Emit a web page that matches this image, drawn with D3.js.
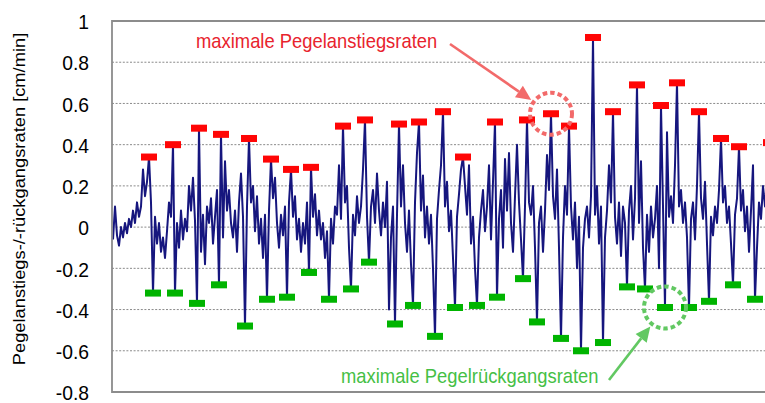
<!DOCTYPE html>
<html>
<head>
<meta charset="utf-8">
<script src="https://cdn.jsdelivr.net/npm/d3@7"></script>
<style>
  html, body { margin: 0; padding: 0; background: #fff; }
  svg { display: block; }
  text { font-family: "Liberation Sans", Arial, sans-serif; }
</style>
</head>
<body>
<svg id="chart" width="765" height="403"></svg>
<script>
// Water level rise/fall rates [cm/min], one value per time step
const rates = [
  -0.06, 0.10, -0.04, -0.09, 0.00, -0.05, 0.02, -0.03, 0.04, 0.00,
  0.08, 0.02, 0.12, 0.05, 0.10, 0.28, 0.15, 0.22, 0.34, 0.12,
  -0.32, 0.05, -0.08, 0.02, -0.12, -0.05, -0.15, -0.02, 0.12, 0.05,
  0.40, -0.32, 0.02, -0.10, 0.08, -0.06, 0.04, -0.02, 0.20, 0.08,
  0.24, 0.03, -0.37, 0.48, -0.12, 0.06, -0.18, 0.10, 0.02, 0.14,
  -0.08, 0.05, 0.18, -0.28, 0.45, -0.05, 0.32, 0.08, 0.18, 0.02,
  -0.05, 0.08, -0.12, 0.12, 0.26, 0.05, -0.48, 0.10, 0.43, 0.12,
  0.20, -0.02, 0.15, -0.08, 0.04, -0.15, 0.06, -0.35, 0.08, 0.33,
  0.14, 0.24, 0.02, -0.10, 0.06, -0.04, 0.10, -0.34, 0.12, 0.28,
  0.05, 0.15, -0.06, 0.04, -0.12, 0.02, -0.08, 0.12, -0.22, 0.29,
  0.05, 0.16, -0.04, 0.08, -0.06, 0.02, -0.15, -0.02, -0.35, 0.04,
  -0.08, 0.10, 0.06, 0.30, 0.04, 0.49, 0.12, 0.20, -0.10, -0.30,
  0.06, -0.04, 0.15, 0.02, 0.10, 0.28, 0.52, 0.05, -0.17, 0.10,
  0.18, 0.02, 0.26, 0.08, -0.04, 0.12, 0.00, 0.22, -0.40, -0.05,
  0.10, -0.47, 0.06, 0.50, 0.10, 0.30, 0.02, -0.12, 0.08, -0.18,
  -0.38, 0.12, 0.36, 0.51, 0.08, 0.25, -0.05, 0.10, -0.08, 0.06,
  -0.20, -0.53, 0.04, 0.18, 0.30, 0.56, 0.10, 0.22, -0.02, 0.08,
  -0.15, -0.39, 0.05, 0.16, 0.28, 0.34, 0.20, 0.06, 0.30, -0.08,
  0.05, -0.20, -0.38, -0.05, 0.08, 0.18, -0.02, 0.10, 0.30, -0.06,
  0.22, 0.51, -0.34, 0.04, 0.18, -0.10, 0.33, 0.08, 0.36, 0.02,
  -0.12, 0.15, 0.40, 0.12, -0.06, -0.25, 0.10, 0.52, 0.12, 0.06,
  0.20, -0.10, -0.46, 0.02, 0.10, -0.12, 0.08, 0.35, 0.18, 0.55,
  0.15, 0.04, 0.28, -0.10, -0.54, -0.05, 0.20, 0.06, 0.49, 0.10,
  -0.06, 0.12, -0.20, 0.05, -0.60, -0.10, 0.04, 0.10, -0.05, 0.15,
  0.92, 0.06, 0.20, -0.08, 0.10, -0.56, -0.05, 0.08, 0.30, 0.12,
  0.56, 0.05, -0.08, 0.12, -0.14, 0.10, 0.02, -0.29, 0.08, 0.20,
  -0.06, 0.14, 0.69, 0.02, 0.32, -0.10, -0.30, 0.06, -0.12, 0.10,
  -0.05, 0.04, 0.20, -0.20, 0.59, 0.10, -0.39, 0.46, 0.05, 0.15,
  0.02, 0.30, 0.70, 0.10, 0.18, 0.02, 0.12, -0.05, -0.39, 0.04,
  0.12, -0.06, 0.20, 0.56, 0.14, 0.04, 0.22, -0.08, -0.36, 0.05,
  -0.04, 0.10, 0.02, 0.18, 0.43, 0.12, 0.20, 0.02, 0.10, -0.08,
  -0.28, 0.06, 0.14, 0.39, 0.08, 0.18, -0.02, 0.10, -0.12, 0.08,
  0.30, -0.35, -0.10, 0.12, 0.04, 0.20, 0.10, 0.24, 0.30, 0.41,
  0.15, 0.05, 0.12
];

// Time steps holding the daily maximum rise rate and maximum fall rate
const riseMaxIdx = [18, 30, 43, 54, 68, 79, 89, 99, 115, 126, 143, 153, 165, 175,
  191, 207, 219, 228, 240, 250, 262, 274, 282, 293, 304, 313, 329];
const fallMaxIdx = [20, 31, 42, 53, 66, 77, 87, 98, 108, 119, 128, 141, 150, 161, 171,
  182, 192, 205, 212, 224, 234, 245, 257, 266, 276, 288, 298, 310, 321];

const yTicks = [1, 0.8, 0.6, 0.4, 0.2, 0, -0.2, -0.4, -0.6, -0.8];
const yTitle = "Pegelanstiegs-/-rückgangsraten [cm/min]";
const riseLabel = "maximale Pegelanstiegsraten";
const fallLabel = "maximale Pegelrückgangsraten";
// markers singled out by the callouts
const riseHighlight = 16;
const fallHighlight = 24;

const W = 765, H = 403;
const plot = { left: 112, top: 21, bottom: 392 };
const sx = 0.92; // horizontal text compression

const svg = d3.select("#chart");

const x = d3.scaleLinear().domain([0, rates.length - 1]).range([113, 113 + 2 * (rates.length - 1)]);
const y = d3.scaleLinear().domain([-0.8, 1]).range([plot.bottom, plot.top]);

// dotted gridlines
svg.append("g")
  .selectAll("line")
  .data(yTicks.filter(t => t !== 1 && t !== -0.8))
  .join("line")
  .attr("x1", plot.left).attr("x2", W)
  .attr("y1", d => y(d)).attr("y2", d => y(d))
  .attr("stroke", "#8a8a8a")
  .attr("stroke-width", 1)
  .attr("stroke-dasharray", "2,1.6");

// rate series
svg.append("path")
  .datum(rates)
  .attr("fill", "none")
  .attr("stroke", "#16167e")
  .attr("stroke-width", 2)
  .attr("stroke-linejoin", "round")
  .attr("d", d3.line().x((d, i) => x(i)).y(d => y(d)));

// markers for daily extremes
const mw = 16, mh = 7;
svg.append("g")
  .selectAll("rect")
  .data(riseMaxIdx)
  .join("rect")
  .attr("x", i => x(i) - mw / 2).attr("y", i => y(rates[i]) - mh / 2)
  .attr("width", mw).attr("height", mh)
  .attr("fill", "#ff0505");
svg.append("g")
  .selectAll("rect")
  .data(fallMaxIdx)
  .join("rect")
  .attr("x", i => x(i) - mw / 2).attr("y", i => y(rates[i]) - mh / 2)
  .attr("width", mw).attr("height", mh)
  .attr("fill", "#00b400");

// frame (left, top, bottom)
svg.append("path")
  .attr("d", `M${W},${plot.top}H${plot.left}V${plot.bottom}H${W}`)
  .attr("fill", "none")
  .attr("stroke", "#8c8c8c")
  .attr("stroke-width", 1.8);

// y axis labels
const axis = svg.append("g")
  .attr("transform", `translate(${plot.left},0)`)
  .call(d3.axisLeft(y).tickValues(yTicks).tickSize(0).tickFormat(d => String(d)));
axis.select(".domain").remove();
axis.selectAll("text")
  .attr("x", -23 / sx)
  .attr("dy", "0.37em")
  .attr("transform", `scale(${sx},1)`)
  .attr("fill", "#000")
  .style("font-family", "'Liberation Sans', Arial, sans-serif")
  .style("font-size", "21px");

// y axis title
svg.append("text")
  .attr("transform", `translate(25,${(32 + 366) / 2}) scale(${sx},1) rotate(-90)`)
  .attr("text-anchor", "middle")
  .style("font-size", "18.3px")
  .attr("fill", "#000")
  .text(yTitle);

// callouts
function callout(cx, cy, tail, color, textColor, label, textPos) {
  const r = 21;
  svg.append("circle")
    .attr("cx", cx).attr("cy", cy).attr("r", r)
    .attr("fill", "none")
    .attr("stroke", color)
    .attr("stroke-width", 4)
    .attr("stroke-dasharray", "4.5,3");
  const dx = tail[0] - cx, dy = tail[1] - cy;
  const len = Math.hypot(dx, dy);
  const ux = dx / len, uy = dy / len;
  const tip = [cx + ux * (r + 3), cy + uy * (r + 3)];
  const headLen = 15, headW = 7;
  const base = [tip[0] + ux * headLen, tip[1] + uy * headLen];
  svg.append("line")
    .attr("x1", tail[0]).attr("y1", tail[1])
    .attr("x2", base[0]).attr("y2", base[1])
    .attr("stroke", color).attr("stroke-width", 2.6);
  svg.append("polygon")
    .attr("points", [
      tip,
      [base[0] - uy * headW, base[1] + ux * headW],
      [base[0] + uy * headW, base[1] - ux * headW]
    ].map(p => p.join(",")).join(" "))
    .attr("fill", color);
  svg.append("text")
    .attr("transform", `translate(${textPos[0]},${textPos[1]}) scale(${sx},1)`)
    .style("font-size", "20px")
    .attr("fill", textColor)
    .text(label);
}

const ri = riseMaxIdx[riseHighlight];
callout(x(ri), y(rates[ri]), [450, 44], "#f26a6a", "#e8232d", riseLabel, [196, 48]);
const fi = fallMaxIdx[fallHighlight];
callout(x(fi), y(rates[fi]), [609, 380], "#62c862", "#45bf45", fallLabel, [341, 383]);
</script>
</body>
</html>
